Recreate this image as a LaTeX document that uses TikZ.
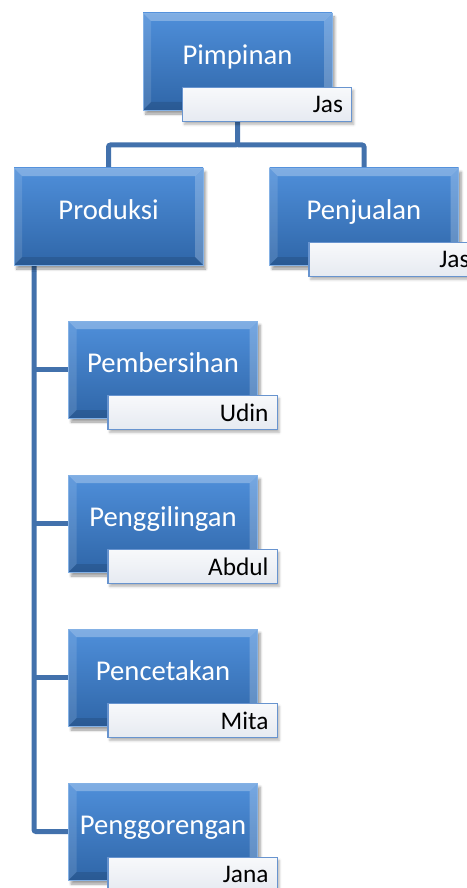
\documentclass[tikz,border=0pt]{standalone}
\usepackage{fontspec}
\setmainfont{Carlito}
\usetikzlibrary{shadows.blur,backgrounds}

\definecolor{boxtop}{HTML}{4F8FDA}
\definecolor{boxbot}{HTML}{2F66A8}
\definecolor{linkblue}{HTML}{4271AC}
\definecolor{tagedge}{HTML}{6894CF}
\definecolor{tagfill}{HTML}{E6EAF1}

\begin{document}
\begin{tikzpicture}[
    x=0.75pt, y=-0.75pt,
    unit/.style={rectangle, minimum width=141.75pt, minimum height=72.75pt, inner sep=0pt,
        top color=boxtop, bottom color=boxbot, draw=boxtop!70!white, line width=0.5pt,
        text=white, font=\fontsize{21.5}{25}\selectfont, text height=15pt, text depth=11pt,
        blur shadow={shadow xshift=2pt, shadow yshift=-3pt, shadow blur steps=6, shadow opacity=40},
        bevel},
    bevel/.style={path picture={
        \fill[white, opacity=0.28] (path picture bounding box.north west) -- (path picture bounding box.north east)
            -- ([shift={(-6pt,-6pt)}]path picture bounding box.north east) -- ([shift={(6pt,-6pt)}]path picture bounding box.north west) -- cycle;
        \fill[white, opacity=0.12] (path picture bounding box.north west) -- (path picture bounding box.south west)
            -- ([shift={(6pt,6pt)}]path picture bounding box.south west) -- ([shift={(6pt,-6pt)}]path picture bounding box.north west) -- cycle;
        \fill[white, opacity=0.22] (path picture bounding box.north east) -- (path picture bounding box.south east)
            -- ([shift={(-6pt,6pt)}]path picture bounding box.south east) -- ([shift={(-6pt,-6pt)}]path picture bounding box.north east) -- cycle;
        \fill[black, opacity=0.12] (path picture bounding box.south west) -- (path picture bounding box.south east)
            -- ([shift={(-6pt,6pt)}]path picture bounding box.south east) -- ([shift={(6pt,6pt)}]path picture bounding box.south west) -- cycle;
    }},
    tag/.style={rectangle, anchor=south east, minimum height=25.5pt, text width=114pt, align=right,
        inner xsep=6.5pt, inner ysep=0pt, top color=white!70!tagfill, bottom color=tagfill,
        draw=tagedge, line width=1pt, font=\fontsize{19}{22}\selectfont, text=black,
        blur shadow={shadow xshift=1.5pt, shadow yshift=-2pt, shadow blur steps=4, shadow opacity=30}},
    link/.style={draw=linkblue, line width=3.75pt, rounded corners=1.5pt}
]
  \useasboundingbox (0,0) rectangle (467,888);

  % top
  \node[unit] (pim) at (237.5,61.5) {Pimpinan};
  \node[tag] (pimT) at ([xshift=15pt,yshift=-9pt]pim.south east) {Jas};

  % second level
  \node[unit] (prod) at (108.5,216.5) {Produksi};
  \node[unit] (jual) at (364,216.5) {Penjualan};
  \node[tag] (jualT) at ([xshift=15pt,yshift=-9pt]jual.south east) {Jas};

  % under Produksi
  \node[unit] (bersih) at (163,369.5) {Pembersihan};
  \node[tag] (bersihT) at ([xshift=15pt,yshift=-9pt]bersih.south east) {Udin};
  \node[unit] (giling) at (163,523.5) {Penggilingan};
  \node[tag] (gilingT) at ([xshift=15pt,yshift=-9pt]giling.south east) {Abdul};
  \node[unit] (cetak) at (163,677.5) {Pencetakan};
  \node[tag] (cetakT) at ([xshift=15pt,yshift=-9pt]cetak.south east) {Mita};
  \node[unit] (goreng) at (163,831.5) {Penggorengan};
  \node[tag] (gorengT) at ([xshift=15pt,yshift=-9pt]goreng.south east) {Jana};

  \coordinate (bus) at (237.5,145);
  \coordinate (trunk) at (34,265);

  \begin{scope}[on background layer]
    \draw[link] (pim.south) -- (bus) -| (prod.north);
    \draw[link] (bus) -| (jual.north);
    \draw[link] (prod.south -| trunk) |- (goreng.west);
    \foreach \n in {bersih,giling,cetak}
      \draw[link] (trunk |- \n.west) -- (\n.west);
  \end{scope}
\end{tikzpicture}
\end{document}
